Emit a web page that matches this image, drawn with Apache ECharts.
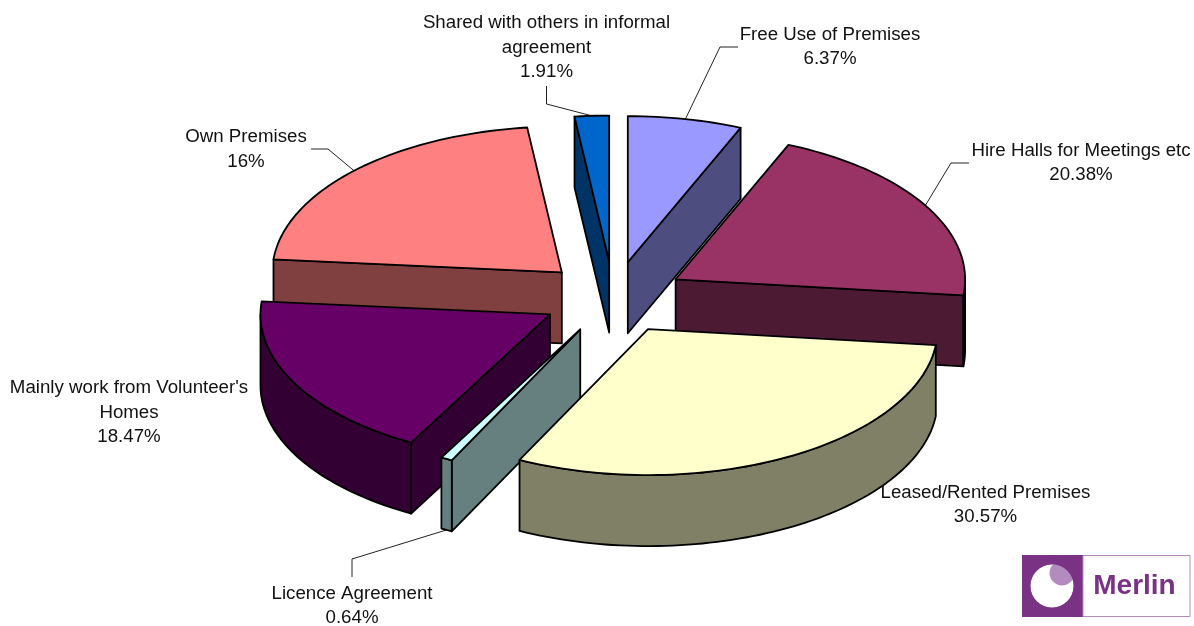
<!DOCTYPE html>
<html>
<head>
<meta charset="utf-8">
<style>html,body{margin:0;padding:0;background:#fff}#c{width:1194px;height:626px}</style>
<script src="https://cdn.jsdelivr.net/npm/echarts@6/dist/echarts.min.js"></script>
</head>
<body>
<div id="c"></div>
<script>
const categories = ['Free Use of Premises','Hire Halls for Meetings etc','Leased/Rented Premises','Licence Agreement',"Mainly work from Volunteer's\nHomes",'Own Premises','Shared with others in informal\nagreement'];
const sliceShares = [6.37,20.38,30.57,0.64,18.47,21.66,1.91];
const shownPercents = ['6.37%','20.38%','30.57%','0.64%','18.47%','16%','1.91%'];
const topColors = ['#9999FF','#993366','#FFFFCC','#CCFFFF','#660066','#FF8080','#0066CC'];
const sideColors = ['#4D4D80','#4D1A33','#808066','#668080','#330033','#804040','#003366'];

// layout only
const drawOrder = [5,6,0,1,4,3,2];
const G = {cx:613.5, cy:297.5, rx:289.5, ry:146, depth:71, explode:72};
const labelCenters = [[830,47],[1081,163],[985.5,505],[352,606],[129,412.5],[246,149.5],[546.5,47.5]];
const leaderBends = [
  [[720,47],[738,47]], [[951,163],[969,163]], null, [[352,559],[352,577]],
  null, [[328,149],[311,149]], [[546.5,104],[546.5,86]]
];

const total = sliceShares.reduce((a,b)=>a+b,0);
const starts = []; let acc = 0;
sliceShares.forEach(v=>{starts.push(acc/total*360); acc+=v;});
const rad = d=>d*Math.PI/180;

function renderItem(params, api){
  const i = api.value(0);
  const a = starts[i], b = a + api.value(1)/total*360;
  const mid = (a+b)/2;
  const tx = G.cx + G.explode*Math.sin(rad(mid));
  const ty = G.cy - G.explode*Math.cos(rad(mid))*0.5;
  const pt = (d,dz)=>[tx+G.rx*Math.sin(rad(d)), ty-G.ry*Math.cos(rad(d))+(dz||0)];
  const arc = (from,to,dz)=>{const n=Math.max(2,Math.ceil((to-from)/1.5)),r=[];for(let k=0;k<=n;k++)r.push(pt(from+(to-from)*k/n,dz));return r;};
  const edge = {stroke:'#000',lineWidth:1.8,lineJoin:'round'};
  const kids = [];
  const poly = (points,fill)=>kids.push({type:'polygon',shape:{points},style:Object.assign({fill},edge)});
  const d = G.depth;

  // leader line (under the slice)
  if(leaderBends[i]){
    const s = (i===3)?pt(mid,d):pt(mid);
    kids.push({type:'polyline',shape:{points:[s].concat(leaderBends[i])},style:{fill:null,stroke:'#222',lineWidth:1}});
  }
  // radial walls, visible when they face the viewer
  if(Math.sin(rad(a))<-1e-6){
    const p=pt(a); poly([[tx,ty],p,[p[0],p[1]+d],[tx,ty+d]],sideColors[i]);
  }
  if(Math.sin(rad(b))>1e-6){
    const p=pt(b); poly([[tx,ty],p,[p[0],p[1]+d],[tx,ty+d]],sideColors[i]);
  }
  // outer wall, front half only
  const f=Math.max(a,90), t=Math.min(b,270);
  if(t>f) poly(arc(f,t,0).concat(arc(f,t,d).reverse()),sideColors[i]);
  // top face
  poly([[tx,ty]].concat(arc(a,b,0)),topColors[i]);
  // label
  kids.push({type:'text',x:labelCenters[i][0],y:labelCenters[i][1],z2:50,
    style:{text:categories[i]+'\n'+shownPercents[i],fill:'#111',
      fontFamily:'"Liberation Sans",Arial,sans-serif',fontSize:18.7,lineHeight:24.5,
      textAlign:'center',textVerticalAlign:'middle'}});
  return {type:'group',children:kids};
}

const chart = echarts.init(document.getElementById('c'));
chart.setOption({
  animation:false,
  backgroundColor:'#fff',
  series:[{type:'custom',coordinateSystem:'none',silent:true,renderItem,
    encode:{value:[0,1]},
    data:drawOrder.map(i=>[i,sliceShares[i]])}],
  graphic:{elements:[
    {type:'rect',silent:true,z:10,shape:{x:1022,y:555,width:61,height:62},style:{fill:'#7A3285'}},
    {type:'circle',silent:true,z:11,shape:{cx:1052,cy:586,r:21.7},style:{fill:'#fff'}},
    {type:'circle',silent:true,z:12,shape:{cx:1062,cy:573,r:12.5},style:{fill:'#B48BBF'}},
    {type:'ring',silent:true,z:13,shape:{cx:1052,cy:586,r:30,r0:21.7},style:{fill:'#7A3285'}},
    {type:'rect',silent:true,z:14,shape:{x:1083,y:555.5,width:107,height:61},style:{fill:'#fff',stroke:'#B48BBF',lineWidth:1}},
    {type:'text',silent:true,z:15,x:1134.5,y:586,style:{text:'Merlin',fill:'#7A3285',fontFamily:'"Liberation Sans",Arial,sans-serif',fontWeight:'bold',fontSize:28,textAlign:'center',textVerticalAlign:'middle'}}
  ]}
});
</script>
</body>
</html>
